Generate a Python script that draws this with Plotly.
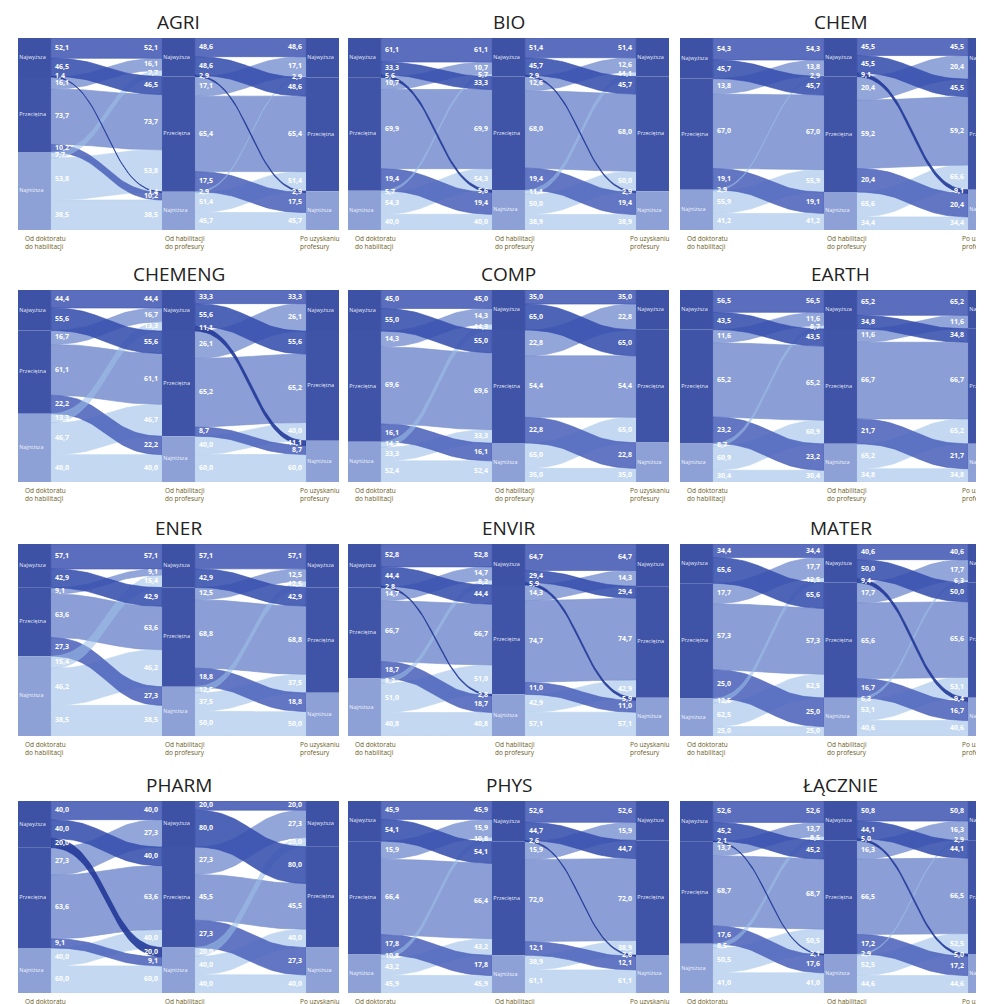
import numpy as np
import plotly.graph_objects as go

# ---------------- DATA ----------------
panel_names = ["AGRI", "BIO", "CHEM", "CHEMENG", "COMP", "EARTH",
               "ENER", "ENVIR", "MATER", "PHARM", "PHYS", "ŁĄCZNIE"]
categories = ["Najwyższa", "Przeciętna", "Najniższa"]
stage_labels = ["Od doktoratu<br>do habilitacji",
                "Od habilitacji<br>do profesury",
                "Po uzyskaniu<br>profesury"]

# share of each category in the first stage (% of all researchers)
agri_start = [20.3, 39.1, 40.6]
bio_start = [20.5, 59.0, 20.5]
chem_start = [21.1, 57.9, 20.9]
chemeng_start = [21.1, 43.3, 35.6]
comp_start = [21.4, 57.6, 21.0]
earth_start = [20.6, 59.3, 20.1]
ener_start = [22.8, 35.6, 41.6]
envir_start = [22.6, 47.4, 30.0]
mater_start = [20.5, 60.0, 19.6]
pharm_start = [24.3, 52.2, 23.5]
phys_start = [20.9, 59.1, 20.0]
total_start = [21.2, 53.2, 25.6]

# transitions (row = from, column = to), % of the source category
agri_t1 = [[52.1, 46.5, 1.4], [16.1, 73.7, 10.2], [7.7, 53.8, 38.5]]
agri_t2 = [[48.6, 48.6, 2.9], [17.1, 65.4, 17.5], [2.9, 51.4, 45.7]]
bio_t1 = [[61.1, 33.3, 5.6], [10.7, 69.9, 19.4], [5.7, 54.3, 40.0]]
bio_t2 = [[51.4, 45.7, 2.9], [12.6, 68.0, 19.4], [11.1, 50.0, 38.9]]
chem_t1 = [[54.3, 45.7, 0.0], [13.8, 67.0, 19.1], [2.9, 55.9, 41.2]]
chem_t2 = [[45.5, 45.5, 9.1], [20.4, 59.2, 20.4], [0.0, 65.6, 34.4]]
chemeng_t1 = [[44.4, 55.6, 0.0], [16.7, 61.1, 22.2], [13.3, 46.7, 40.0]]
chemeng_t2 = [[33.3, 55.6, 11.1], [26.1, 65.2, 8.7], [0.0, 40.0, 60.0]]
comp_t1 = [[45.0, 55.0, 0.0], [14.3, 69.6, 16.1], [14.3, 33.3, 52.4]]
comp_t2 = [[35.0, 65.0, 0.0], [22.8, 54.4, 22.8], [0.0, 65.0, 35.0]]
earth_t1 = [[56.5, 43.5, 0.0], [11.6, 65.2, 23.2], [8.7, 60.9, 30.4]]
earth_t2 = [[65.2, 34.8, 0.0], [11.6, 66.7, 21.7], [0.0, 65.2, 34.8]]
ener_t1 = [[57.1, 42.9, 0.0], [9.1, 63.6, 27.3], [15.4, 46.2, 38.5]]
ener_t2 = [[57.1, 42.9, 0.0], [12.5, 68.8, 18.8], [12.5, 37.5, 50.0]]
envir_t1 = [[52.8, 44.4, 2.8], [14.7, 66.7, 18.7], [8.2, 51.0, 40.8]]
envir_t2 = [[64.7, 29.4, 5.9], [14.3, 74.7, 11.0], [0.0, 42.9, 57.1]]
mater_t1 = [[34.4, 65.6, 0.0], [17.7, 57.3, 25.0], [12.5, 62.5, 25.0]]
mater_t2 = [[40.6, 50.0, 9.4], [17.7, 65.6, 16.7], [6.3, 53.1, 40.6]]
pharm_t1 = [[40.0, 40.0, 20.0], [27.3, 63.6, 9.1], [0.0, 40.0, 60.0]]
pharm_t2 = [[20.0, 80.0, 0.0], [27.3, 45.5, 27.3], [20.0, 40.0, 40.0]]
phys_t1 = [[45.9, 54.1, 0.0], [15.9, 66.4, 17.8], [10.8, 43.2, 45.9]]
phys_t2 = [[52.6, 44.7, 2.6], [15.9, 72.0, 12.1], [0.0, 38.9, 61.1]]
total_t1 = [[52.6, 45.2, 2.1], [13.7, 68.7, 17.6], [8.5, 50.5, 41.0]]
total_t2 = [[50.8, 44.1, 5.0], [16.3, 66.5, 17.2], [2.9, 52.5, 44.6]]

starts = [agri_start, bio_start, chem_start, chemeng_start, comp_start, earth_start,
          ener_start, envir_start, mater_start, pharm_start, phys_start, total_start]
trans1 = [agri_t1, bio_t1, chem_t1, chemeng_t1, comp_t1, earth_t1,
          ener_t1, envir_t1, mater_t1, pharm_t1, phys_t1, total_t1]
trans2 = [agri_t2, bio_t2, chem_t2, chemeng_t2, comp_t2, earth_t2,
          ener_t2, envir_t2, mater_t2, pharm_t2, phys_t2, total_t2]

# ---------------- STYLE ----------------
FIG_W, FIG_H = 984, 1004
COL_LEFT = [10, 340, 672]
ROW_TOP = [30, 282, 536, 793]
PANEL_PX_W, PANEL_PX_H = 321, 192
NODE_W = 1.0
GAP = 3.37
TOTAL_W = 3 * NODE_W + 2 * GAP
NODE_COLORS = ["#3d52a5", "#3f54a7", "#8da1d6"]
FLOW_APPARENT = [["#5a6ebe", "#4e63b7", "#3a4ea3"],
                 ["#93a6da", "#8b9fd6", "#6276c3"],
                 ["#c9dcf2", "#c4d9f1", "#c4d9f1"]]
FLOW_ALPHA = 0.88
FONT = "Open Sans"
# drawing order of (source, target) flows
DRAW_ORDER = [(2, 1), (2, 2), (1, 0), (1, 1), (1, 2), (2, 0),
              (0, 0), (0, 1), (0, 2)]


def under_alpha(hexcol, a):
    h = hexcol.lstrip("#")
    rgb = [int(h[i:i + 2], 16) for i in (0, 2, 4)]
    c = [max(0, min(255, round((v - (1 - a) * 255) / a))) for v in rgb]
    return f"rgba({c[0]},{c[1]},{c[2]},{a})"


def fmt(v):
    return f"{v:.1f}".replace(".", ",")


def sig(x0, x1, y0, y1, n=40):
    t = np.linspace(0, 1, n)
    xm = (x0 + x1) / 2
    x = (1 - t) ** 3 * x0 + 3 * (1 - t) ** 2 * t * xm + 3 * (1 - t) * t ** 2 * xm + t ** 3 * x1
    y = (1 - t) ** 3 * y0 + 3 * (1 - t) ** 2 * t * y0 + 3 * (1 - t) * t ** 2 * y1 + t ** 3 * y1
    return x, y


fig = go.Figure()
annotations = []
layout_axes = {}

for k, name in enumerate(panel_names):
    r, c = divmod(k, 3)
    left_px = COL_LEFT[c]
    top_px = ROW_TOP[r]
    right_px = min(left_px + PANEL_PX_W, FIG_W)
    xa = "x" if k == 0 else f"x{k + 1}"
    ya = "y" if k == 0 else f"y{k + 1}"
    xkey = "xaxis" if k == 0 else f"xaxis{k + 1}"
    ykey = "yaxis" if k == 0 else f"yaxis{k + 1}"
    layout_axes[xkey] = dict(domain=[left_px / FIG_W, right_px / FIG_W],
                             range=[0, (right_px - left_px) * TOTAL_W / PANEL_PX_W],
                             visible=False, fixedrange=True, anchor=ya)
    layout_axes[ykey] = dict(domain=[1 - (top_px + PANEL_PX_H) / FIG_H, 1 - top_px / FIG_H],
                             range=[100, 0], visible=False, fixedrange=True, anchor=xa)

    s1 = np.array(starts[k], dtype=float)
    s1 = s1 / s1.sum() * 100
    T = [np.array(trans1[k]), np.array(trans2[k])]
    shares = [s1]
    flows = []
    for t in range(2):
        F = shares[-1][:, None] * T[t] / 100.0
        flows.append(F)
        shares.append(F.sum(axis=0))

    node_x = [0, NODE_W + GAP, 2 * (NODE_W + GAP)]
    node_tops = [np.concatenate([[0], np.cumsum(s)[:-1]]) for s in shares]

    lab_x, lab_y, lab_t, lab_pos = [], [], [], []
    for t in range(2):
        F = flows[t]
        x0 = node_x[t] + NODE_W
        x1 = node_x[t + 1]
        out_off = np.zeros((3, 3))
        in_off = np.zeros((3, 3))
        for i in range(3):
            acc = node_tops[t][i]
            for j in range(3):
                out_off[i, j] = acc
                acc += F[i, j]
        for j in range(3):
            acc = node_tops[t + 1][j]
            for i in range(3):
                in_off[i, j] = acc
                acc += F[i, j]
        for (i, j) in DRAW_ORDER:
            if T[t][i, j] <= 0:
                continue
            h = F[i, j]
            xt, yt = sig(x0, x1, out_off[i, j], in_off[i, j])
            xb, yb = sig(x1, x0, in_off[i, j] + h, out_off[i, j] + h)
            a = 0.55 if (i, j) == (2, 0) else FLOW_ALPHA
            col = under_alpha(FLOW_APPARENT[i][j], a)
            fig.add_trace(go.Scatter(
                x=np.concatenate([xt, xb, [xt[0]]]),
                y=np.concatenate([yt, yb, [yt[0]]]),
                xaxis=xa, yaxis=ya, mode="lines", fill="toself",
                fillcolor=col, line=dict(color=col, width=0.7),
                hoverinfo="skip", showlegend=False))
        for i in range(3):
            for j in range(3):
                if T[t][i, j] <= 0:
                    continue
                h = F[i, j]
                lab_x += [x0 + 0.12, x1 - 0.12]
                lab_y += [out_off[i, j] + h / 2, in_off[i, j] + h / 2]
                lab_t += [fmt(T[t][i, j])] * 2
                lab_pos += ["middle right", "middle left"]

    for s_idx in range(3):
        for i in range(3):
            y0 = node_tops[s_idx][i]
            y1 = y0 + shares[s_idx][i]
            xl = node_x[s_idx]
            fig.add_trace(go.Scatter(
                x=[xl, xl + NODE_W, xl + NODE_W, xl, xl],
                y=[y0, y0, y1, y1, y0], xaxis=xa, yaxis=ya,
                mode="lines", fill="toself", fillcolor=NODE_COLORS[i],
                line=dict(width=0), hoverinfo="skip", showlegend=False))
    fig.add_trace(go.Scatter(
        x=[node_x[s] + 0.04 for s in range(3) for i in range(3)],
        y=[node_tops[s][i] + shares[s][i] / 2 for s in range(3) for i in range(3)],
        text=[categories[i] for s in range(3) for i in range(3)],
        mode="text", textposition="middle right",
        textfont=dict(color="rgba(255,255,255,0.9)", size=5.5, family=FONT),
        xaxis=xa, yaxis=ya, hoverinfo="skip", showlegend=False))

    fig.add_trace(go.Scatter(
        x=lab_x, y=lab_y, text=lab_t, mode="text", textposition=lab_pos,
        textfont=dict(color="white", size=7, family=FONT, weight="bold"),
        xaxis=xa, yaxis=ya, hoverinfo="skip", showlegend=False))

    annotations.append(dict(
        text=name, x=(left_px + PANEL_PX_W / 2) / FIG_W, y=1 - (top_px - 1) / FIG_H,
        xref="paper", yref="paper", xanchor="center", yanchor="bottom",
        showarrow=False, font=dict(size=19, color="#222222", family=FONT)))
    for s_idx, off in enumerate([5, 145, 280]):
        annotations.append(dict(
            text=stage_labels[s_idx], x=(left_px + off) / FIG_W,
            y=1 - (top_px + PANEL_PX_H + 2) / FIG_H,
            xref="paper", yref="paper", xanchor="left", yanchor="top", align="left",
            showarrow=False, font=dict(size=6.5, color="#6b5c1a", family=FONT)))

fig.update_layout(width=FIG_W, height=FIG_H, margin=dict(l=0, r=0, t=0, b=0),
                  plot_bgcolor="white", paper_bgcolor="white",
                  annotations=annotations, showlegend=False, **layout_axes)
fig.write_html("out.html")
